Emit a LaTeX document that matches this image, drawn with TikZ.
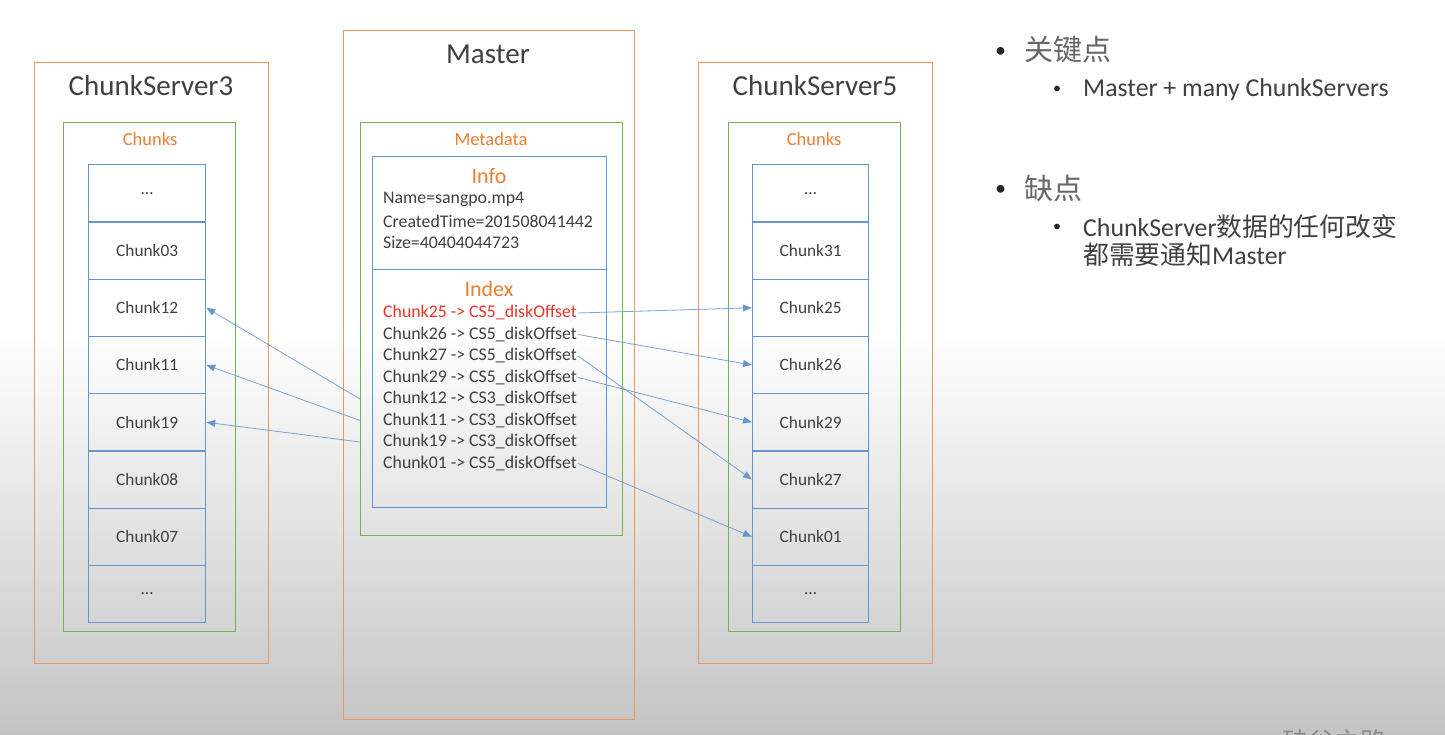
\documentclass[tikz,border=0pt]{standalone}
\usepackage{fontspec}
\setmainfont{Carlito}
\newfontfamily\cjk{Noto Sans CJK SC}
\usetikzlibrary{arrows.meta}
\definecolor{ornge}{RGB}{240,150,90}
\definecolor{grn}{RGB}{120,175,85}
\definecolor{blu}{RGB}{100,150,205}
\definecolor{txt}{RGB}{64,64,64}
\definecolor{redt}{RGB}{232,52,40}
\definecolor{ortxt}{RGB}{237,125,49}
\definecolor{botgray}{RGB}{196,196,196}
\tikzset{
  outerbox/.style={draw=ornge, line width=1.3pt, anchor=north west},
  greenbox/.style={draw=grn, line width=1.3pt, anchor=north west},
  bluebox/.style={draw=blu, line width=1.3pt, anchor=north west},
  chunkbox/.style={draw=blu, line width=1.3pt, anchor=north west, minimum width=117, minimum height=57.25, inner sep=0, text=txt, font=\fontsize{17.3}{19}\selectfont},
  title/.style={text=txt, font=\fontsize{29}{32}\selectfont},
  subtitle/.style={text=ortxt, font=\fontsize{18.5}{20}\selectfont},
  sectitle/.style={text=ortxt, font=\fontsize{22}{24}\selectfont},
  row/.style={anchor=west, inner sep=1, text=txt, font=\fontsize{17.8}{19}\selectfont},
  link/.style={draw=blu, line width=0.8pt, draw opacity=0.85, -{Triangle[length=9,width=7]}},
  bullet/.style={anchor=west, inner sep=0, text=black!85},
  big/.style={text=txt!80, font=\fontsize{29}{32}\selectfont\cjk},
  small/.style={text=txt, font=\fontsize{25.8}{28}\selectfont, align=left},
}
\begin{document}
\begin{tikzpicture}[x=1pt,y=-1pt]
\useasboundingbox (0,0) rectangle (1445,734);
\fill[white] (0,0) rectangle (1445,734);
\shade[top color=white, bottom color=botgray] (0,330) rectangle (1445,734);

% ChunkServer3
\node[outerbox, minimum width=234, minimum height=601] (cs3) at (34,62) {};
\node[title] (cs3t) at (151,86) {ChunkServer3};
\node[greenbox, minimum width=172, minimum height=509] (cs3g) at (63,122) {};
\node[subtitle] (cs3c) at (150,139) {Chunks};
\foreach \lab/\nm [count=\i from 0] in {{…}/la, Chunk03/l03, Chunk12/l12, Chunk11/l11, Chunk19/l19, Chunk08/l08, Chunk07/l07, {…}/lb}
  \node[chunkbox] (\nm) at (88,164+\i*57.25) {\lab};

% Master
\node[outerbox, minimum width=291, minimum height=689] (ms) at (343,30) {};
\node[title] (mst) at (488,54) {Master};
\node[greenbox, minimum width=262, minimum height=413] (meta) at (360,122) {};
\node[subtitle] (metat) at (491,139) {Metadata};
\node[bluebox, minimum width=234, minimum height=113] (info) at (372,156) {};
\node[bluebox, minimum width=234, minimum height=238] (index) at (372,269) {};
\node[sectitle] (infot) at (489,176) {Info};
\node[row] (i1) at (382,199) {Name=sangpo.mp4};
\node[row] (i2) at (382,221) {CreatedTime=201508041442};
\node[row] (i3) at (382,242) {Size=40404044723};
\node[sectitle] (indext) at (489,289) {Index};
\node[row, text=redt] (r1) at (382,313) {Chunk25 -> CS5\_diskOffset};
\node[row] (r2) at (382,334.5) {Chunk26 -> CS5\_diskOffset};
\node[row] (r3) at (382,356) {Chunk27 -> CS5\_diskOffset};
\node[row] (r4) at (382,377.5) {Chunk29 -> CS5\_diskOffset};
\node[row] (r5) at (382,399) {Chunk12 -> CS3\_diskOffset};
\node[row] (r6) at (382,420.5) {Chunk11 -> CS3\_diskOffset};
\node[row] (r7) at (382,442) {Chunk19 -> CS3\_diskOffset};
\node[row] (r8) at (382,463.5) {Chunk01 -> CS5\_diskOffset};

% ChunkServer5
\node[outerbox, minimum width=234, minimum height=601] (cs5) at (698,62) {};
\node[title] (cs5t) at (815,86) {ChunkServer5};
\node[greenbox, minimum width=172, minimum height=509] (cs5g) at (728,122) {};
\node[subtitle] (cs5c) at (814,139) {Chunks};
\foreach \lab/\nm [count=\i from 0] in {{…}/ra, Chunk31/r31, Chunk25/r25, Chunk26/r26, Chunk29/r29, Chunk27/r27, Chunk01/r01, {…}/rb}
  \node[chunkbox, minimum width=116] (\nm) at (752,164+\i*57.25) {\lab};

% links
\draw[link] (meta.west |- r5) -- (l12.east);
\draw[link] (meta.west |- r6) -- (l11.east);
\draw[link] (meta.west |- r7) -- (l19.east);
\draw[link] (r1.east) -- (r25.west);
\draw[link] (r2.east) -- (r26.west);
\draw[link] (r3.east) -- (r27.west);
\draw[link] (r4.east) -- (r29.west);
\draw[link] (r8.east) -- (r01.west);

% right-hand notes
\node[bullet, font=\fontsize{22}{24}\selectfont] (b1) at (995,52) {•};
\node[big, anchor=west, inner sep=0] (t1) at (1024,50) {关键点};
\node[bullet, font=\fontsize{16}{18}\selectfont] (b2) at (1053,90) {•};
\node[small, anchor=west, inner sep=0] (t2) at (1083,90) {Master + many ChunkServers};
\node[bullet, font=\fontsize{22}{24}\selectfont] (b3) at (995,190) {•};
\node[big, anchor=west, inner sep=0] (t3) at (1024,188) {缺点};
\node[bullet, font=\fontsize{16}{18}\selectfont] (b4) at (1053,228) {•};
\node[small, anchor=north west, inner sep=0] (t4) at (1083,214) {ChunkServer{\cjk 数据的任何改变}\\{\cjk 都需要通知}Master};

% watermark (cut at the bottom, as in the reference)
\begin{scope}
\clip (0,0) rectangle (1445,734);
\node[text=black!45, font=\fontsize{26}{28}\selectfont\cjk] (wm) at (1334,742) {硅谷之路};
\end{scope}
\end{tikzpicture}
\end{document}
